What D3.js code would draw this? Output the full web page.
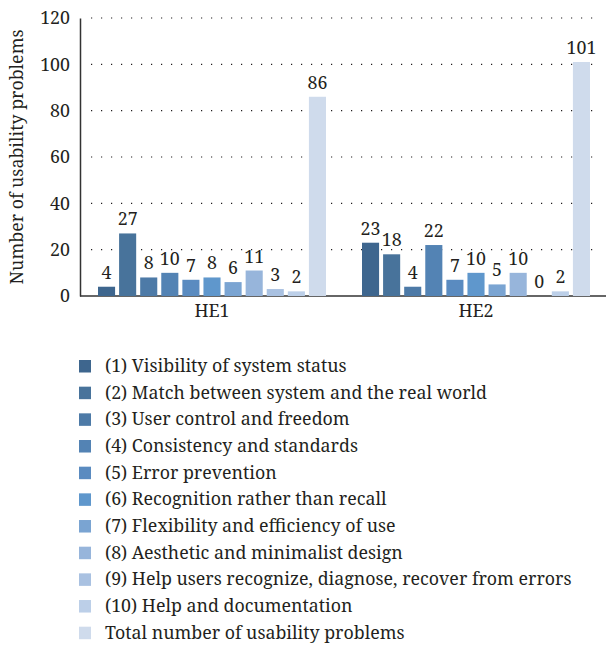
<!DOCTYPE html>
<html>
<head>
<meta charset="utf-8">
<script src="https://cdn.jsdelivr.net/npm/d3@7"></script>
<style>
  body { margin: 0; background: #fff; }
</style>
</head>
<body>
<div id="chart"></div>
<script>
// chart data
const groups = ["HE1", "HE2"];
const heuristics = [
  "(1) Visibility of system status",
  "(2) Match between system and the real world",
  "(3) User control and freedom",
  "(4) Consistency and standards",
  "(5) Error prevention",
  "(6) Recognition rather than recall",
  "(7) Flexibility and efficiency of use",
  "(8) Aesthetic and minimalist design",
  "(9) Help users recognize, diagnose, recover from errors",
  "(10) Help and documentation",
  "Total number of usability problems"
];
const he1Values = [4, 27, 8, 10, 7, 8, 6, 11, 3, 2, 86];
const he2Values = [23, 18, 4, 22, 7, 10, 5, 10, 0, 2, 101];
const yTicks = [0, 20, 40, 60, 80, 100, 120];
const colors = ["#3e668e", "#48739b", "#4d7aa7", "#5383b4", "#5a8bc0", "#5f97cc",
                "#7aa4d2", "#97b5db", "#a9c1e1", "#bccfe8", "#cfdbec"];

const seriesByGroup = [he1Values, he2Values];

// text style used everywhere
const textStyle = "font-family:'Noto Serif','Liberation Serif',serif;font-size:17.8px;fill:#231f20";

let width = 606, height = 645;
let plot = {left: 80, right: 608, top: 18, bottom: 296};

const svg = d3.select("#chart")
              .append("svg")
                .attr("width", width)
                .attr("height", height);

// scales
let x0 = d3.scaleBand()
            .domain(groups)
            .range([plot.left, plot.right])
            .padding(0);

let x1 = d3.scaleBand()
            .domain(d3.range(heuristics.length))
            .range([18, 246])
            .paddingInner(0.19)
            .paddingOuter(0);

let y = d3.scaleLinear()
           .domain([0, 120])
           .range([plot.bottom, plot.top]);

// dotted grid lines
svg.append("g")
    .selectAll("line")
    .data(yTicks.filter(function(d) { return d > 0; }))
    .enter()
    .append("line")
      .attr("x1", plot.left + 11)
      .attr("x2", 600)
      .attr("y1", function(d) { return y(d); })
      .attr("y2", function(d) { return y(d); })
      .attr("stroke", "#231f20")
      .attr("stroke-width", 1.2)
      .attr("stroke-dasharray", "1.2,8.8");

// y axis
const yAxis = svg.append("g")
    .attr("transform", "translate(" + plot.left + ",0)")
    .call(d3.axisLeft(y).tickValues(yTicks).tickSize(0).tickPadding(10));
yAxis.select(".domain").attr("stroke", "#333").attr("stroke-width", 1.5);
yAxis.selectAll(".tick text")
    .attr("style", textStyle);

// x axis
const xAxis = svg.append("g")
    .attr("transform", "translate(0," + plot.bottom + ")")
    .call(d3.axisBottom(x0).tickSize(0).tickPadding(8));
xAxis.select(".domain").remove();
xAxis.append("line")
    .attr("x1", plot.left)
    .attr("x2", width)
    .attr("stroke", "#333")
    .attr("stroke-width", 1.5);
xAxis.selectAll(".tick text")
    .attr("style", textStyle);

// y axis title
svg.append("text")
    .attr("transform", "translate(23," + 157 + ")rotate(-90)")
    .attr("text-anchor", "middle")
    .attr("style", textStyle)
    .text("Number of usability problems");

// bars
const groupG = svg.selectAll(".group")
    .data(groups)
    .enter()
    .append("g")
      .attr("class", "group")
      .attr("transform", function(d) { return "translate(" + x0(d) + ",0)"; });

groupG.selectAll("rect")
    .data(function(d, i) { return seriesByGroup[i]; })
    .enter()
    .append("rect")
      .attr("x", function(d, i) { return x1(i); })
      .attr("y", function(d) { return y(d); })
      .attr("width", x1.bandwidth())
      .attr("height", function(d) { return plot.bottom - y(d); })
      .attr("fill", function(d, i) { return colors[i]; });

groupG.selectAll(".val")
    .data(function(d, i) { return seriesByGroup[i]; })
    .enter()
    .append("text")
      .attr("class", "val")
      .attr("x", function(d, i) { return x1(i) + x1.bandwidth() / 2; })
      .attr("y", function(d) { return y(d) - 8; })
      .attr("text-anchor", "middle")
      .attr("style", textStyle)
      .text(function(d) { return d; });

// legend
const legend = svg.append("g")
    .attr("transform", "translate(79,360)");

const legRow = legend.selectAll(".leg")
    .data(heuristics)
    .enter()
    .append("g")
      .attr("transform", function(d, i) { return "translate(0," + (i * 26.67) + ")"; });

legRow.append("rect")
    .attr("width", 12)
    .attr("height", 12.5)
    .attr("fill", function(d, i) { return colors[i]; });

legRow.append("text")
    .attr("x", 26)
    .attr("y", 12)
    .attr("style", textStyle)
    .text(function(d) { return d; });
</script>
</body>
</html>
